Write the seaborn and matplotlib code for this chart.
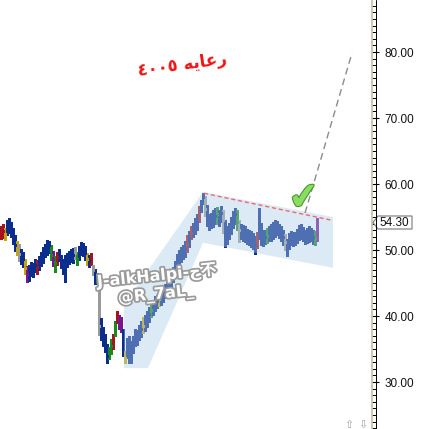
import matplotlib
matplotlib.use("Agg")
import matplotlib.pyplot as plt
import matplotlib.patheffects as pe
from matplotlib.patches import Polygon
from matplotlib.ticker import MultipleLocator, FormatStrFormatter
import seaborn as sns

# daily bars (one bar every 2 px)
closes = [
    52.6, 52.9, 52.4, 53.6, 53.9, 52.8, 51.9, 50.8, 50.2, 49.4,
    49.0, 48.6, 47.3, 46.4, 46.6, 47.5, 47.0, 47.8, 47.4, 48.3,
    48.8, 49.2, 50.1, 50.5, 50.8, 49.3, 48.6, 48.1, 48.9, 49.5,
    48.4, 47.9, 48.6, 48.6, 49.0, 49.4, 49.2, 49.6, 48.7, 49.8,
    50.5, 50.2, 49.6, 48.7, 48.4, 48.5, 46.9, 46.0, 45.5, 38.5,
    37.6, 36.8, 35.6, 34.0, 34.6, 35.4, 36.6, 38.6, 40.2, 38.6,
    38.3, 35.5, 33.6, 34.8, 35.6, 34.6, 35.9, 36.8, 37.0, 37.4,
    38.0, 38.5, 39.1, 39.6, 40.3, 40.9, 41.4, 41.9, 42.2, 42.6,
    42.8, 43.3, 43.9, 44.5, 45.0, 45.6, 46.4, 47.2, 48.4, 49.0,
    49.4, 49.8, 50.2, 50.9, 51.9, 52.6, 53.1, 53.7, 54.3, 55.5,
    56.8, 58.0, 56.2, 54.9, 54.1, 54.5, 54.8, 55.1, 55.4, 55.0,
    55.6, 54.6, 53.0, 51.9, 52.8, 53.8, 54.6, 55.5, 54.2, 53.1,
    52.8, 52.6, 52.4, 52.1, 51.9, 51.6, 51.3, 50.8, 51.5, 54.1,
    52.6, 51.8, 52.0, 52.1, 52.4, 52.6, 52.9, 53.2, 53.4, 52.9,
    52.5, 52.0, 51.2, 50.3, 51.4, 51.9, 51.7, 51.8, 52.2, 52.8,
    52.9, 52.4, 52.0, 52.2, 52.3, 52.4, 52.0, 51.8, 54.3,
]
lows = [
    51.6, 51.8, 51.5, 52.2, 52.6, 51.9, 50.9, 49.8, 49.2, 48.4,
    47.9, 47.5, 46.4, 45.2, 45.3, 46.0, 45.9, 46.6, 46.3, 46.9,
    47.6, 48.0, 48.9, 49.3, 49.5, 48.5, 47.6, 46.6, 47.8, 48.3,
    47.3, 46.3, 45.2, 47.5, 47.9, 48.2, 48.1, 48.6, 47.8, 48.5,
    49.3, 49.1, 48.5, 47.8, 47.4, 47.7, 46.2, 44.9, 45.0, 37.1,
    36.4, 35.5, 34.6, 32.9, 33.5, 34.2, 35.0, 36.9, 39.0, 38.0,
    37.6, 33.9, 32.9, 33.6, 32.9, 32.9, 34.4, 35.5, 35.6, 36.3,
    36.8, 37.4, 37.8, 38.4, 39.1, 39.8, 40.2, 40.7, 41.2, 41.5,
    41.7, 42.1, 42.7, 43.3, 43.8, 44.4, 45.1, 46.0, 47.0, 47.9,
    48.2, 48.6, 49.0, 49.7, 50.5, 51.6, 52.0, 52.5, 53.1, 54.3,
    55.7, 56.9, 55.2, 53.7, 53.1, 53.4, 53.5, 53.9, 54.0, 53.7,
    54.2, 52.6, 50.5, 50.9, 51.6, 52.4, 53.3, 54.0, 53.0, 51.2,
    51.6, 51.4, 51.2, 50.9, 50.7, 50.4, 50.2, 49.4, 50.3, 51.6,
    50.8, 50.6, 50.9, 51.1, 51.3, 51.4, 51.7, 52.0, 52.2, 51.8,
    51.4, 50.8, 50.0, 49.1, 50.2, 50.8, 50.6, 50.7, 51.1, 51.5,
    51.7, 51.3, 50.9, 51.1, 51.2, 51.3, 50.9, 50.8, 51.4,
]
highs = [
    53.6, 53.9, 53.4, 54.5, 54.9, 54.3, 53.3, 52.3, 51.3, 50.9,
    50.1, 49.7, 48.7, 47.6, 47.7, 48.2, 48.0, 48.6, 48.5, 49.1,
    49.7, 50.4, 50.9, 51.5, 51.3, 50.8, 49.8, 49.1, 49.7, 50.2,
    49.3, 48.7, 49.2, 49.5, 49.9, 50.2, 50.3, 50.4, 49.7, 50.6,
    51.2, 51.1, 50.6, 49.6, 49.3, 49.5, 47.8, 47.1, 46.5, 43.9,
    39.7, 38.3, 37.3, 35.7, 35.3, 36.5, 37.2, 39.3, 40.8, 40.2,
    39.8, 38.1, 34.7, 36.6, 36.9, 36.2, 37.0, 38.1, 37.9, 38.6,
    39.2, 39.8, 40.2, 40.7, 41.4, 42.0, 42.4, 43.0, 43.2, 43.5,
    43.8, 44.3, 44.9, 45.4, 46.0, 46.7, 47.5, 48.3, 49.4, 50.0,
    50.4, 50.8, 51.3, 52.2, 52.9, 53.7, 54.1, 54.8, 55.4, 56.6,
    57.6, 58.7, 58.2, 56.8, 55.4, 55.6, 56.0, 56.3, 56.5, 56.1,
    56.6, 56.1, 54.5, 53.6, 54.1, 55.0, 55.9, 56.4, 56.0, 54.6,
    54.0, 53.8, 53.6, 53.2, 53.0, 52.9, 52.6, 52.1, 52.8, 56.4,
    54.1, 53.0, 53.1, 53.3, 53.6, 53.9, 54.3, 54.6, 54.4, 54.0,
    53.6, 53.1, 52.5, 51.7, 52.6, 52.9, 52.7, 52.8, 53.2, 53.8,
    54.0, 53.5, 53.1, 53.3, 53.6, 53.4, 53.0, 52.9, 54.9,
]
# bars the software painted in another colour
bar_colors = {
    0: "red", 1: "red", 2: "yellow", 8: "yellow", 9: "gray", 12: "yellow",
    13: "purple", 18: "red", 25: "green", 26: "purple", 27: "green",
    28: "red", 37: "gray", 38: "green", 43: "yellow", 45: "red",
    46: "gray", 48: "green", 49: "gray", 54: "green", 55: "green",
    56: "red", 57: "green", 58: "red", 59: "purple", 60: "purple",
    62: "yellow", 71: "yellow", 75: "green", 79: "yellow", 93: "red",
    95: "red", 99: "red", 102: "gray", 108: "green", 111: "gray",
    118: "green", 119: "gray", 128: "red", 133: "green", 142: "gray",
    157: "green", 158: "purple",
}
palette = {
    "navy": "#0b2d8e", "red": "#a3141c", "green": "#1a8a1a",
    "gray": "#9a9a9a", "yellow": "#c8a400", "purple": "#7a1590",
}

# channel drawn on the chart (bar index, price)
channel_x = [61.5, 61.5, 101, 166, 166, 101, 73.5]
channel_y = [32.1, 41.7, 58.8, 55.0, 47.3, 51.1, 32.1]
resist_x = [101.5, 165.5]
resist_y = [58.6, 54.5]
target_x = [152, 175.5]
target_y = [55.6, 79.85]

last_price = 54.30
y_ticks = [30, 40, 50, 60, 70, 80]

W, H = 422, 429


def fx(px):
    return px / W


def fy(py):
    return 1 - py / H


sns.set_theme(style="white")
plt.rcParams["font.family"] = ["Liberation Sans", "DejaVu Sans"]

fig = plt.figure(figsize=(W / 100, H / 100), dpi=100)
ax = fig.add_axes([0, 0, fx(372), 1])

idx = list(range(len(closes)))
cols = [palette[bar_colors.get(i, "navy")] for i in idx]
ax.vlines(idx, lows, highs, colors=cols, linewidth=0.75,
          antialiased=False, zorder=2)
ax.hlines(closes, [i for i in idx], [i + 0.5 for i in idx],
          colors=cols, linewidth=0.75, antialiased=False, zorder=2)

ax.add_patch(Polygon(list(zip(channel_x, channel_y)), closed=True,
                     facecolor="#abcfe7", edgecolor="none", alpha=0.42,
                     zorder=3))

sns.lineplot(x=resist_x, y=resist_y, ax=ax, color="#f06a6a",
             linewidth=1.0, zorder=4)
ax.lines[-1].set_dashes([3, 2])
sns.lineplot(x=target_x, y=target_y, ax=ax, color="#8c8c8c",
             linewidth=1.0, zorder=4)
ax.lines[-1].set_dashes([5, 3])

ax.set_xlim(-0.5, 185.5)
ax.set_ylim(22.88, 87.88)

ax.yaxis.tick_right()
ax.set_yticks(y_ticks)
ax.yaxis.set_major_formatter(FormatStrFormatter("%.2f"))
ax.yaxis.set_minor_locator(MultipleLocator(1))
ax.tick_params(axis="y", which="major", length=5, width=0.8, color="black",
               pad=3.8, labelsize=8.5, labelcolor="#111111", right=True)
ax.tick_params(axis="y", which="minor", length=3, width=0.7, color="black",
               right=True)
ax.set_xticks([])
for side in ["top", "left", "bottom"]:
    ax.spines[side].set_visible(False)
ax.spines["right"].set_color("#c6bf9c")
ax.spines["right"].set_linewidth(1.2)
ax.grid(False)

# black tick baseline next to the tan axis line
fig.add_artist(plt.Line2D([fx(375.5), fx(375.5)], [0, 1],
                          color="black", linewidth=0.7))

# last price marker
fig.add_artist(Polygon(
    [(fx(373), fy(222.5)), (fx(378), fy(216)), (fx(412), fy(216)),
     (fx(412), fy(229)), (fx(378), fy(229))],
    closed=True, facecolor="white", edgecolor="#777777", linewidth=0.8,
    transform=fig.transFigure))
fig.text(fx(379), fy(222.5), f"{last_price:.2f}", fontsize=8.5,
         color="#111111", va="center", ha="left")

# check mark
ax.text(151.5, 57.8, "\u2714", fontsize=26, color="#8edb62",
        ha="center", va="center", rotation=6, zorder=5,
        family=["DejaVu Sans"],
        path_effects=[pe.withStroke(linewidth=1.6, foreground="#3f9a2c")])

# red caption (Arabic, shaped and written in display order)
fig.text(fx(182), fy(65), "\u0664\u0660\u0660\u0665 \ufeea\ufef3\ufe8e\ufecb\ufead",
         fontsize=12, color="#f01414", fontweight="bold", rotation=8,
         ha="center", va="center", family=["DejaVu Sans"])

# watermark
wm = [pe.withStroke(linewidth=2.5, foreground="#9a9a9a")]
fig.text(fx(157), fy(276), "J-alkHalpi-\u062d\u4e0d", fontsize=11.5,
         color="white", fontweight="bold", rotation=6, ha="center",
         va="center", family=["DejaVu Sans", "Noto Sans CJK SC"],
         path_effects=wm, zorder=6)
fig.text(fx(156), fy(295), "@R_7aL_", fontsize=11.5, color="white",
         fontweight="bold", rotation=6, ha="center", va="center",
         family=["DejaVu Sans"], path_effects=wm, zorder=6)

# little scroll icons at the bottom edge
fig.text(fx(349), fy(425), "\u21e7", fontsize=8, color="#a0a0a0",
         ha="center", va="center", family=["DejaVu Sans"])
fig.text(fx(363), fy(425), "\u21e9", fontsize=8, color="#a0a0a0",
         ha="center", va="center", family=["DejaVu Sans"])

fig.savefig("out.png", dpi=100)
plt.close(fig)
